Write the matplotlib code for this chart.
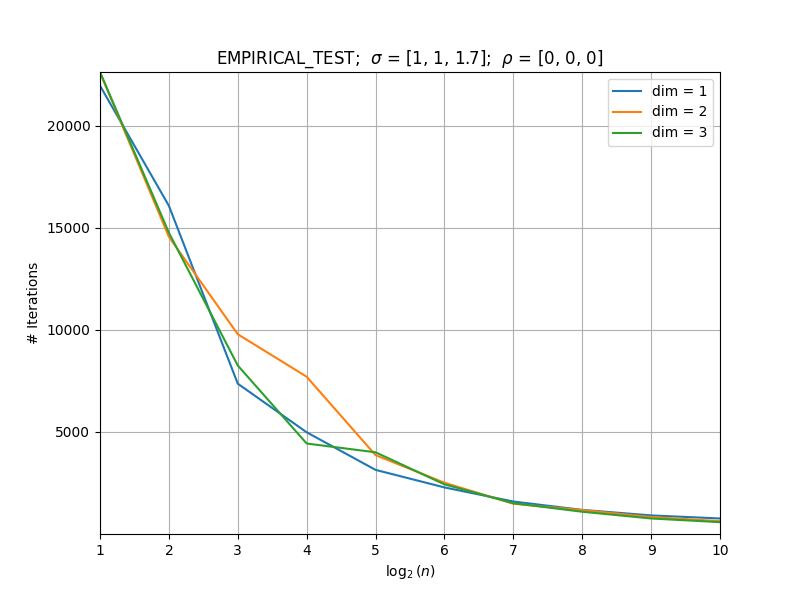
import matplotlib
matplotlib.use('Agg')
import matplotlib.pyplot as plt

# log2(n) values
log_n = [1, 2, 3, 4, 5, 6, 7, 8, 9, 10]

# iterations per dimension
iters_dim1 = [21950, 16070, 7360, 4980, 3140, 2280, 1590, 1180, 910, 760]
iters_dim2 = [22600, 14550, 9780, 7700, 3860, 2510, 1480, 1170, 830, 630]
iters_dim3 = [22620, 14750, 8250, 4430, 4000, 2430, 1510, 1090, 760, 580]

series = [iters_dim1, iters_dim2, iters_dim3]
labels = ['dim = 1', 'dim = 2', 'dim = 3']

fig = plt.figure(figsize=(8, 6), dpi=100)

for i in range(len(series)):
	plt.plot(log_n, series[i], label=labels[i])

plt.xlim(1, 10)
plt.ylim(0, max(max(s) for s in series))
plt.yticks([5000, 10000, 15000, 20000])
plt.grid(True)
plt.xlabel(r'$\log_2(n)$')
plt.ylabel('# Iterations')
plt.title(r'EMPIRICAL_TEST;  $\sigma$ = [1, 1, 1.7];  $\rho$ = [0, 0, 0]')
plt.legend(loc='upper right')

plt.savefig('out.png')
